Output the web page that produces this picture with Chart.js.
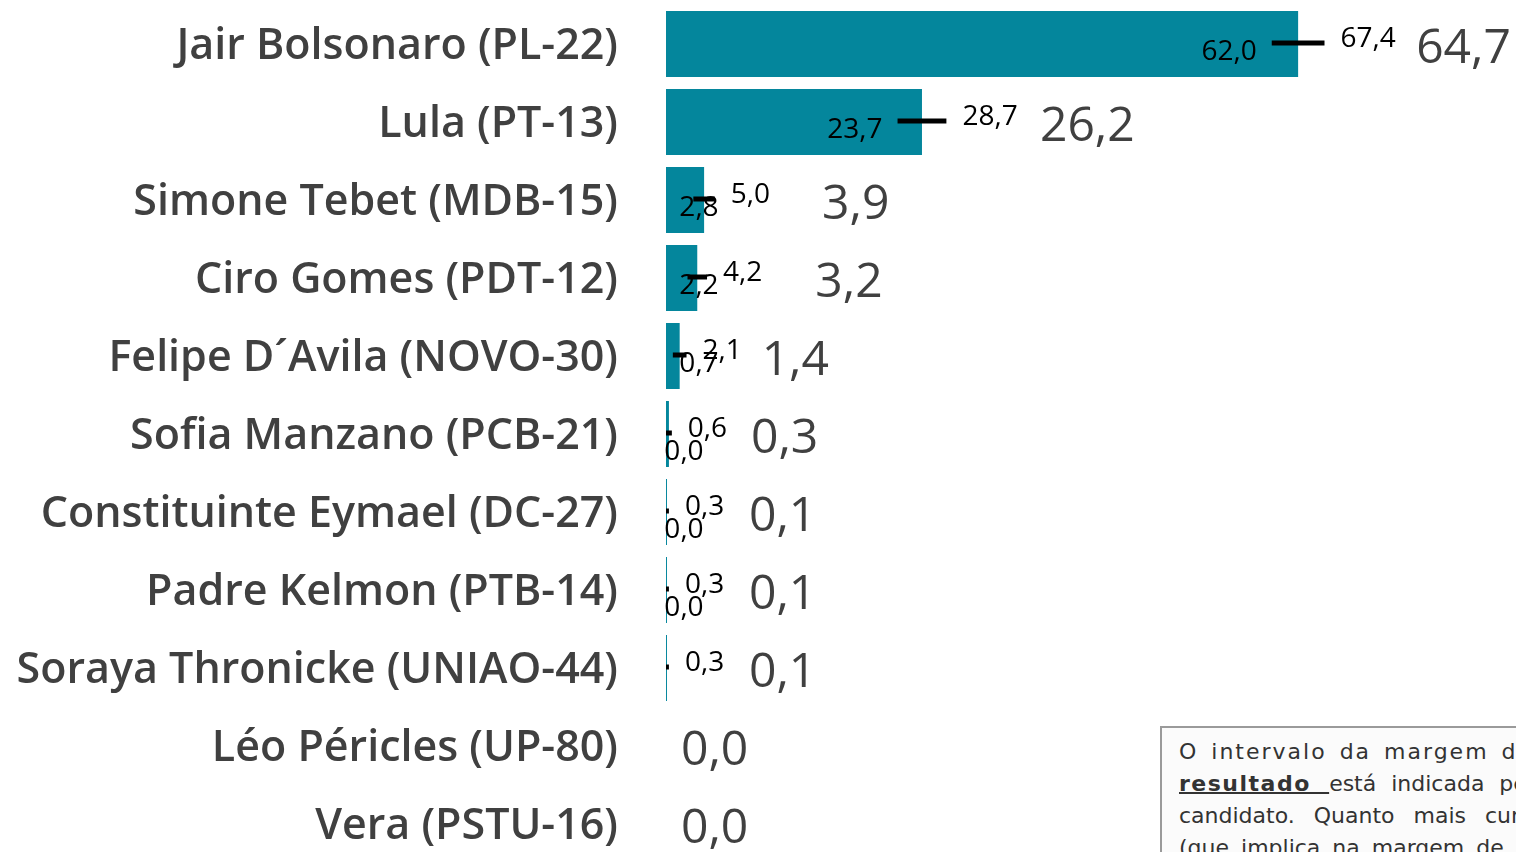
<!DOCTYPE html>
<html>
<head>
<meta charset="utf-8">
<script src="https://cdn.jsdelivr.net/npm/chart.js@4.4.0/dist/chart.umd.min.js"></script>
<style>
  html, body { margin: 0; padding: 0; overflow: hidden; background: #fff; }
  #wrap { position: relative; width: 1516px; height: 852px; overflow: hidden; }
  #chart { position: absolute; left: 0; top: 0; }
  #note {
    position: absolute; left: 1160px; top: 726px; width: 420px; height: 200px;
    border: 2px solid #9a9a9a; background: #fbfbfb; box-sizing: border-box;
    padding: 8px 0 0 17px; font-family: "DejaVu Sans", Verdana, sans-serif;
    font-size: 22px; line-height: 32px; color: #333; white-space: nowrap;
  }
  #note u { text-decoration-thickness: 2px; }
</style>
</head>
<body>
<div id="wrap">
  <canvas id="chart" width="1516" height="870"></canvas>
  <div id="note">
    <div style="letter-spacing:2px;word-spacing:4px">O intervalo da margem de erro do</div>
    <div style="word-spacing:8px"><b><u style="letter-spacing:1.5px;word-spacing:0">resultado&nbsp;&nbsp;</u></b>está indicada pela linha preta de cada</div>
    <div style="word-spacing:12px">candidato. Quanto mais curta a linha</div>
    <div style="word-spacing:5px">(que implica na margem de erro menor)</div>
  </div>
</div>
<script>
// candidatos e valores
var candidates = [
  "Jair Bolsonaro (PL-22)",
  "Lula (PT-13)",
  "Simone Tebet (MDB-15)",
  "Ciro Gomes (PDT-12)",
  "Felipe D´Avila (NOVO-30)",
  "Sofia Manzano (PCB-21)",
  "Constituinte Eymael (DC-27)",
  "Padre Kelmon (PTB-14)",
  "Soraya Thronicke (UNIAO-44)",
  "Léo Péricles (UP-80)",
  "Vera (PSTU-16)"
];
var votes = [64.7, 26.2, 3.9, 3.2, 1.4, 0.3, 0.1, 0.1, 0.1, 0.0, 0.0];
var lowBound = [62.0, 23.7, 2.8, 2.2, 0.7, 0.0, 0.0, 0.0, 0.0, null, null];
var highBound = [67.4, 28.7, 5.0, 4.2, 2.1, 0.6, 0.3, 0.3, 0.3, null, null];
var hideLowLabel = ["Soraya Thronicke (UNIAO-44)"];

var barColor = "#04869c";
var labelFont = '"Open Sans", "Noto Sans", sans-serif';

function fmt(v) {
  return v.toFixed(1).replace(".", ",");
}

// desenha as barras de erro e os rótulos
var errorPlugin = {
  id: "errorBars",
  afterDatasetsDraw: function (chart) {
    var ctx = chart.ctx;
    var xs = chart.scales.x;
    var ys = chart.scales.y;
    var x0 = xs.getPixelForValue(0);
    ctx.save();
    for (var i = 0; i < candidates.length; i++) {
      var y = ys.getPixelForValue(i);
      var lo = lowBound[i];
      var hi = highBound[i];
      var hasBounds = lo !== null && hi !== null;
      if (hasBounds) {
        var xl = xs.getPixelForValue(lo);
        var xh = xs.getPixelForValue(hi);
        ctx.strokeStyle = "#000";
        ctx.lineWidth = 5;
        ctx.beginPath();
        ctx.moveTo(xl, y - 1);
        ctx.lineTo(Math.max(xh, xl + 2), y - 1);
        ctx.stroke();

        ctx.fillStyle = "#000";
        ctx.font = "500 28px " + labelFont;
        ctx.textBaseline = "middle";
        if (hideLowLabel.indexOf(candidates[i]) < 0) {
          var lt = fmt(lo);
          var w = ctx.measureText(lt).width;
          var cx = Math.max(xl - 15 - w / 2, x0 + 33);
          if (lo === 0) cx = x0 + 18;
          ctx.textAlign = "center";
          ctx.fillText(lt, cx, y + (lo > 0 ? 8 : 18));
        }
        ctx.textAlign = "left";
        ctx.fillText(fmt(hi), xh + 16, y - 5);
      }
      // valor principal
      var xb = xs.getPixelForValue(votes[i]);
      var off = !hasBounds ? 15 : (votes[i] >= 3 ? 118 : 82);
      ctx.fillStyle = "#404040";
      ctx.font = "500 48px " + labelFont;
      ctx.textAlign = "left";
      ctx.textBaseline = "middle";
      ctx.fillText(fmt(votes[i]), xb + off, y + 5);
    }
    ctx.restore();
  }
};

new Chart(document.getElementById("chart"), {
  type: "bar",
  data: {
    labels: candidates,
    datasets: [
      {
        data: votes,
        backgroundColor: barColor,
        borderWidth: 0,
        barPercentage: 0.846,
        categoryPercentage: 1
      }
    ]
  },
  options: {
    indexAxis: "y",
    responsive: false,
    animation: false,
    layout: { padding: { top: 5, bottom: 7, left: 0, right: 0 } },
    plugins: {
      legend: { display: false },
      tooltip: { enabled: false }
    },
    scales: {
      x: {
        display: false,
        min: 0,
        max: 87
      },
      y: {
        grid: { display: false, drawTicks: false },
        border: { display: false },
        ticks: {
          padding: 48,
          color: "#404040",
          font: { family: labelFont, size: 43, weight: "600", lineHeight: "6px" },
          // linha vazia antes do nome para baixar o texto alguns pixels
          callback: function (value) {
            return ["", candidates[value]];
          }
        },
        afterFit: function (scale) {
          scale.width = 666;
          scale.paddingTop = 0;
          scale.paddingBottom = 0;
        }
      }
    }
  },
  plugins: [errorPlugin]
});
</script>
</body>
</html>
